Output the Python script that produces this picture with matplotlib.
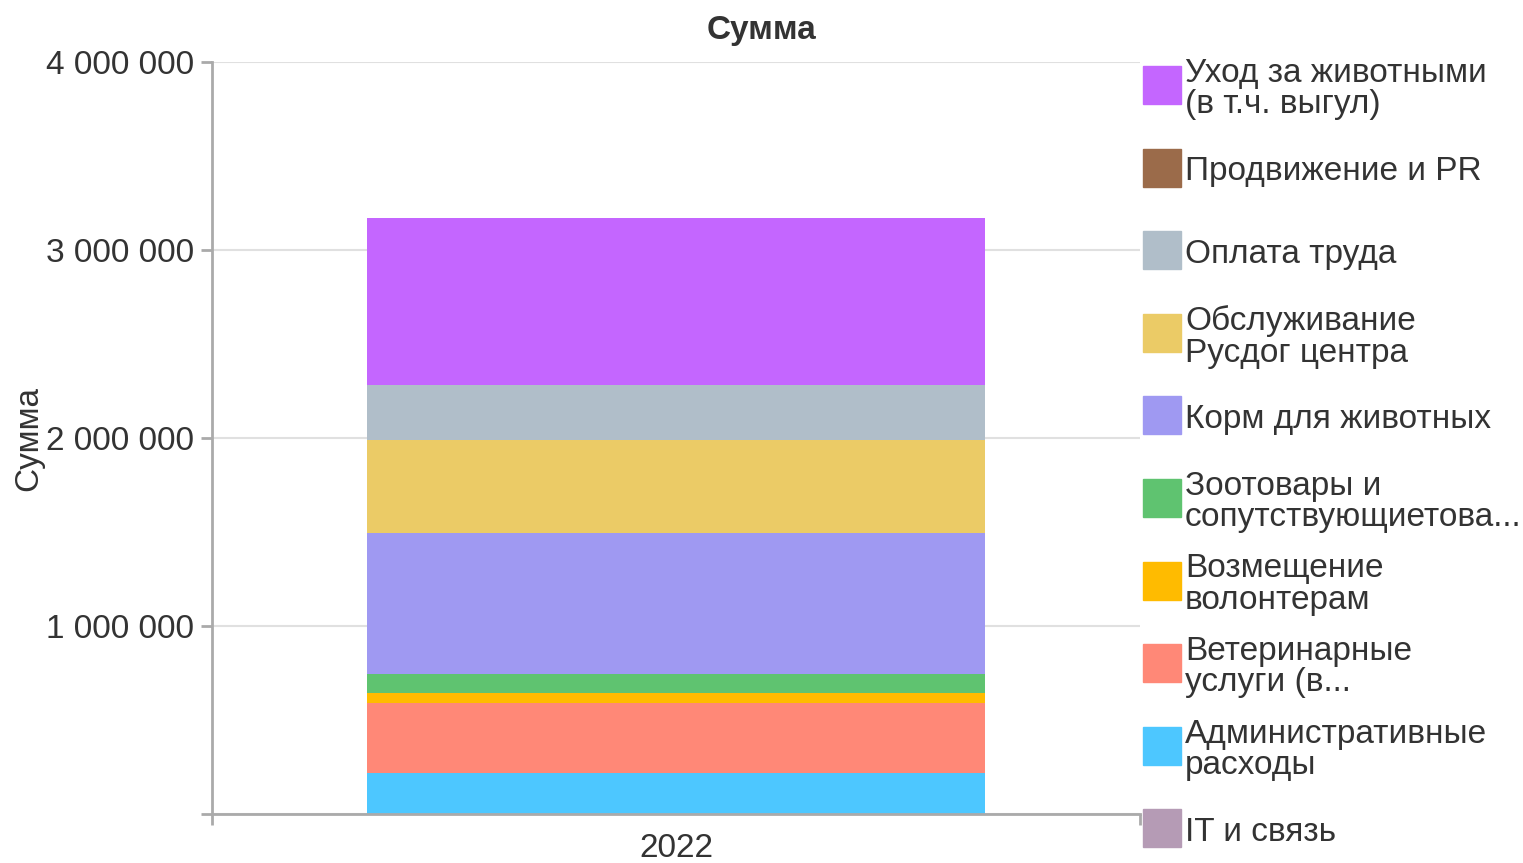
import matplotlib.pyplot as plt
from matplotlib.patches import Rectangle
from matplotlib.ticker import FuncFormatter

plt.rcParams['font.family'] = ['Liberation Sans', 'DejaVu Sans']

year = "2022"

# порядок снизу вверх в стопке
categories = [
    "IT и связь",
    "Административные\nрасходы",
    "Ветеринарные\nуслуги (в...",
    "Возмещение\nволонтерам",
    "Зоотовары и\nсопутствующиетова...",
    "Корм для животных",
    "Обслуживание\nРусдог центра",
    "Оплата труда",
    "Продвижение и PR",
    "Уход за животными\n(в т.ч. выгул)",
]
values = [0, 217000, 373000, 53000, 103000, 749000, 496000, 289000, 0, 890000]
colors = ["#B59BB5", "#4DC7FF", "#FF8877", "#FFBB00", "#5FC370",
          "#9F99F2", "#EBCB66", "#B0BEC9", "#9B6B4A", "#C466FF"]

W, H = 1523, 863
FS = 24
fig = plt.figure(figsize=(W / 100, H / 100), dpi=100)
ax = fig.add_axes([212 / W, 1 - 814 / H, (1140 - 212) / W, (814 - 62) / H])

bottom = 0
for cat, val, col in zip(categories, values, colors):
    ax.bar([0], [val], bottom=bottom, width=1.0, color=col, zorder=2)
    bottom += val

ax.set_xlim(-0.75, 0.75)
ax.set_ylim(0, 4000000)
ax.set_yticks([0, 1000000, 2000000, 3000000, 4000000])
ax.yaxis.set_major_formatter(FuncFormatter(lambda v, p: "" if v == 0 else f"{int(v):,}".replace(",", " ")))
ax.grid(axis="y", color="#e0e0e0", linewidth=1.5, zorder=0)

ax.set_xticks([0])
ax.set_xticklabels([year])
ax.set_xticks([-0.75, 0.75], minor=True)
ax.tick_params(axis="x", which="major", length=0, pad=14, labelsize=FS, labelcolor="#333333")
ax.tick_params(axis="x", which="minor", length=8, width=2, color="#aaaaaa")
ax.tick_params(axis="y", length=8, width=2, color="#aaaaaa", pad=5, labelsize=FS, labelcolor="#333333")

for s in ["top", "right"]:
    ax.spines[s].set_visible(False)
for s in ["left", "bottom"]:
    ax.spines[s].set_color("#aaaaaa")
    ax.spines[s].set_linewidth(2)

ax.set_ylabel("Сумма", fontsize=FS, color="#333333")
ax.yaxis.set_label_coords(-0.181, 0.5)
fig.text(0.5, 1 - 30 / H, "Сумма", ha="center", va="center", fontsize=FS, fontweight="bold", color="#333333")

# легенда вручную, сверху вниз
y0, step = 85, 82.6
for i, (cat, col) in enumerate(zip(categories[::-1], colors[::-1])):
    yc = y0 + i * step
    fig.add_artist(Rectangle((1143 / W, 1 - (yc + 19) / H), 38 / W, 38 / H,
                             transform=fig.transFigure, color=col))
    fig.text(1185 / W, 1 - (yc + 4) / H, cat, ha="left", va="center", fontsize=FS,
             color="#333333", linespacing=1.02)

plt.savefig("out.png", dpi=100)
